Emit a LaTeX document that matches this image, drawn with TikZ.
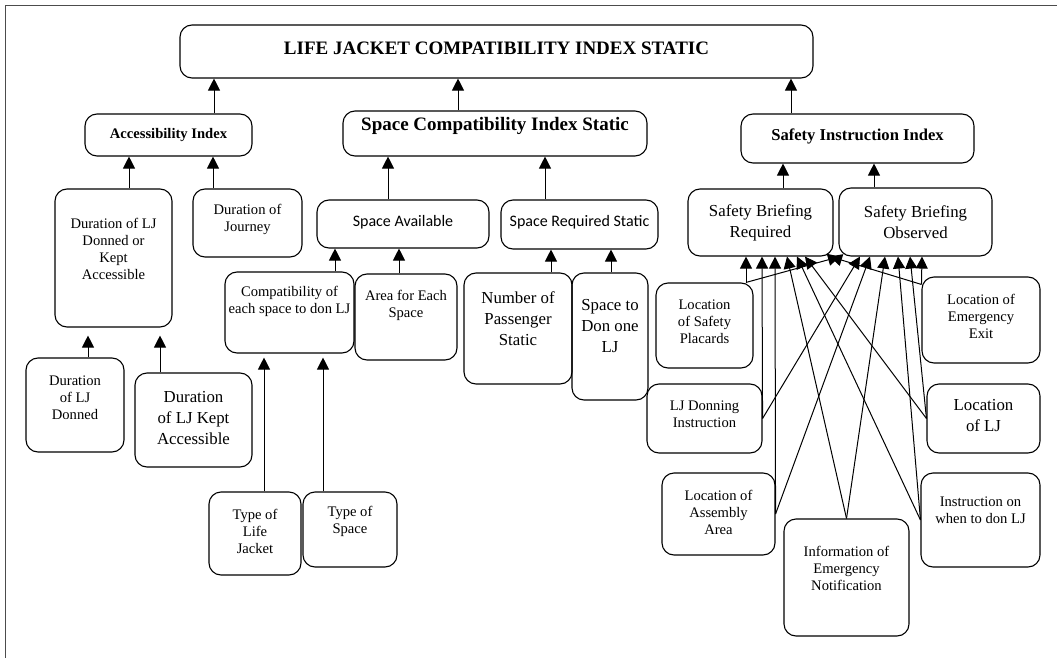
\documentclass[tikz,border=0pt]{standalone}
\usepackage{fontspec}
\setmainfont{Liberation Serif}
\newfontfamily\calibri{Carlito}
\usetikzlibrary{arrows.meta}

\begin{document}
\begin{tikzpicture}[x=1pt,y=-1pt,line width=1pt,
    font=\fontsize{14.6}{17}\selectfont,
    every label/.style={align=center,inner sep=0pt},
    main node/.style={draw,line width=1.1pt,rounded corners=12pt,inner sep=0pt},
    link/.style={-{Triangle[width=12pt,length=12pt]}},
    title/.style={font=\fontsize{19}{22}\selectfont\bfseries},
    index/.style={font=\fontsize{14.6}{17}\selectfont\bfseries},
    big/.style={font=\fontsize{16.8}{21}\selectfont},
    sans/.style={font=\fontsize{16}{19}\selectfont\calibri}]

\useasboundingbox (0,0) rectangle (1057,658);
\draw[line width=0.8pt,black!70] (1057,5) -- (5,5) -- (5,658);

% top levels
\node[main node, minimum width=633, minimum height=53, label={[yshift=3.5pt,title]center:LIFE JACKET COMPATIBILITY INDEX STATIC}] (LJCI) at (496.5,51.5) {};
\node[main node, minimum width=167, minimum height=42, label={[index]center:Accessibility Index}] (AI) at (168.5,135) {};
\node[main node, minimum width=304, minimum height=45, label={[yshift=7.5pt,title]center:Space Compatibility Index Static}] (SCIS) at (495,133.5) {};
\node[main node, minimum width=233, minimum height=49, label={[yshift=2.5pt,font=\fontsize{16.6}{20}\selectfont\bfseries]center:Safety Instruction Index}] (SII) at (857.5,138.5) {};

% accessibility
\node[main node, minimum width=117, minimum height=138, label={[yshift=9.5pt]center:Duration of LJ\\Donned or\\Kept\\Accessible}] (DLJ) at (113.5,258) {};
\node[main node, minimum width=109, minimum height=68, label={[yshift=3.5pt]center:Duration of\\Journey}] (DJ) at (247.5,223) {};
\node[main node, minimum width=98, minimum height=94, label={[yshift=7pt]center:Duration\\of LJ\\Donned}] (DD) at (75,405) {};
\node[main node, minimum width=117, minimum height=94, label={[yshift=1.5pt,big]center:Duration\\of LJ Kept\\Accessible}] (DKA) at (193.5,420) {};

% space
\node[main node, minimum width=172, minimum height=48, label={[yshift=2pt,sans]center:Space Available}] (SA) at (403,224) {};
\node[main node, minimum width=157, minimum height=49, label={[yshift=2.5pt,sans]center:Space Required Static}] (SR) at (579.5,224.5) {};
\node[main node, minimum width=129, minimum height=81, label={[yshift=11.5pt]center:Compatibility of\\each space to don LJ}] (CE) at (289.5,312.5) {};
\node[main node, minimum width=102, minimum height=86, label={[yshift=11.5pt]center:Area for Each\\Space}] (AE) at (406,317) {};
\node[main node, minimum width=108, minimum height=111, label={[yshift=10pt,big]center:Number of\\Passenger\\Static}] (NP) at (518,328.5) {};
\node[main node, minimum width=76, minimum height=127, label={[yshift=10.5pt,big]center:Space to\\Don one\\LJ}] (SD) at (610,336.5) {};
\node[main node, minimum width=92, minimum height=83, label={[yshift=2.5pt]center:Type of\\Life\\Jacket}] (TLJ) at (255,533.5) {};
\node[main node, minimum width=94, minimum height=75, label={[yshift=8pt]center:Type of\\Space}] (TS) at (350,529.5) {};

% safety
\node[main node, minimum width=145, minimum height=67, label={[big]center:Safety Briefing\\Required}] (SBR) at (760.5,222.5) {};
\node[main node, minimum width=153, minimum height=68, label={[big]center:Safety Briefing\\Observed}] (SBO) at (915.5,222) {};
\node[main node, minimum width=97, minimum height=85, label={[yshift=4pt]center:Location\\of Safety\\Placards}] (LSP) at (704.5,325.5) {};
\node[main node, minimum width=115, minimum height=69, label={[yshift=4.5pt]center:LJ Donning\\Instruction}] (LDI) at (704.5,418.5) {};
\node[main node, minimum width=113, minimum height=82, label={[yshift=2pt]center:Location of\\Assembly\\Area}] (LAA) at (718.5,514) {};
\node[main node, minimum width=125, minimum height=117, label={[yshift=9.5pt]center:Information of\\Emergency\\Notification}] (IEN) at (846.5,577.5) {};
\node[main node, minimum width=118, minimum height=86, label={[yshift=4pt]center:Location of\\Emergency\\Exit}] (LEE) at (981,320) {};
\node[main node, minimum width=113, minimum height=69, label={[yshift=2.5pt,big]center:Location\\of LJ}] (LLJ) at (983.5,418.5) {};
\node[main node, minimum width=119, minimum height=94, label={[yshift=9.5pt]center:Instruction on\\when to don LJ}] (IWD) at (980.5,520) {};

\path[link]
(AI.north -| 214,0) edge (LJCI.south -| 214,0)
(SCIS.north -| 458,0) edge (LJCI.south -| 458,0)
(SII.north -| 791,0) edge (LJCI.south -| 791,0)
(DLJ.north -| 129,0) edge (AI.south -| 129,0)
(DJ.north -| 213,0) edge (AI.south -| 213,0)
(DD.north -| 88,0) edge [shorten >=8pt] (DLJ.south -| 88,0)
(DKA.north -| 160,0) edge [shorten >=8pt] (DLJ.south -| 160,0)
(SA.north -| 388,0) edge (SCIS.south -| 388,0)
(SR.north -| 545,0) edge (SCIS.south -| 545,0)
(CE.north -| 335,0) edge (SA.south -| 335,0)
(AE.north -| 399,0) edge (SA.south -| 399,0)
(NP.north -| 551,0) edge (SR.south -| 551,0)
(SD.north -| 611,0) edge (SR.south -| 611,0)
(TLJ.north -| 264,0) edge [shorten >=4pt] (CE.south -| 264,0)
(TS.north -| 323,0) edge [shorten >=4pt] (CE.south -| 323,0)
(SBR.north -| 783,0) edge (SII.south -| 783,0)
(SBO.north -| 874,0) edge (SII.south -| 874,0);

\path[link]
(LSP.north -| 746,0) edge (SBR.south -| 746,0)
(LSP.north -| 746,0) edge (SBO.south -| 840,0)
(LDI.east) edge (SBR.south -| 762,0)
(LDI.east) edge (SBO.south -| 860,0)
(LAA.east) edge (SBR.south -| 775,0)
(LAA.east) edge (SBO.south -| 870,0)
(IEN.north) edge (SBR.south -| 787,0)
(IEN.north) edge (SBO.south -| 885,0)
(IWD.west) edge (SBR.south -| 797,0)
(IWD.west) edge (SBO.south -| 898,0)
(LLJ.west) edge (SBR.south -| 805,0)
(LLJ.west) edge (SBO.south -| 910,0)
([yshift=-8pt]LEE.north west) edge (SBR.south -| 830,0)
([yshift=-8pt]LEE.north west) edge (SBO.south -| 922,0);

\end{tikzpicture}
\end{document}
